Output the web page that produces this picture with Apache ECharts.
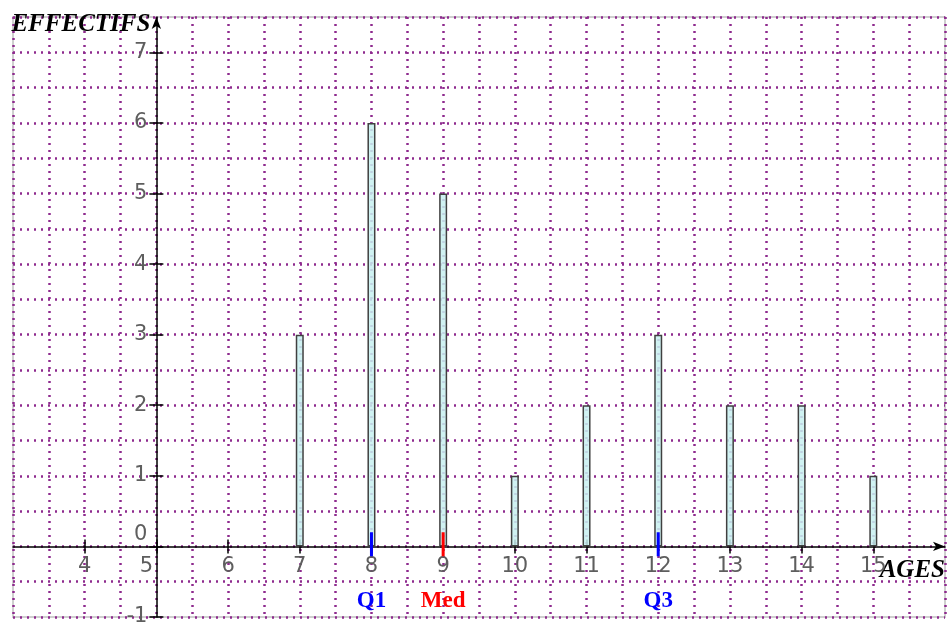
<!DOCTYPE html>
<html>
<head>
<meta charset="utf-8">
<script src="https://cdn.jsdelivr.net/npm/echarts@6/dist/echarts.min.js"></script>
<style>
    html, body { margin: 0; padding: 0; background: #fff; }
    #main { width: 950px; height: 627px; }
</style>
</head>
<body>
<div id="main"></div>
<script>
// données
const ages = [7, 8, 9, 10, 11, 12, 13, 14, 15];
const effectifs = [3, 6, 5, 1, 2, 3, 2, 2, 1];
const quartNames = ['Q1', 'Med', 'Q3'];
const quartAges = [8, 9, 12];
const quartColors = ['#0000ff', '#ff0000', '#0000ff'];
const xTicks = [4, 5, 6, 7, 8, 9, 10, 11, 12, 13, 14, 15];
const yTicks = [-1, 0, 1, 2, 3, 4, 5, 6, 7];

const xMin = 3, xMax = 16, yMin = -1, yMax = 7.5;
const gridLeft = 13, gridRight = 5, gridTop = 17, gridBottom = 10;
const plotW = 950 - gridLeft - gridRight;
const plotH = 627 - gridTop - gridBottom;
// l'axe des effectifs passe par x = 5, celui des ages par y = 0
const yAxisAt = 5;
const xAxisAt = 0;
const offLeft = -(yAxisAt - xMin) / (xMax - xMin) * plotW;
const offRight = -(xMax - yAxisAt) / (xMax - xMin) * plotW;
const offBottom = -(xAxisAt - yMin) / (yMax - yMin) * plotH;
const offTop = -(yMax - xAxisAt) / (yMax - yMin) * plotH;

const dotted = { color: '#8e2b8e', width: 2.5, type: [2, 5], cap: 'butt' };
const tickStyle = { color: '#000', width: 1.5 };
const labelFont = { fontFamily: 'DejaVu Sans', fontSize: 21, color: '#5e5e5e' };
const titleFont = { fontFamily: 'Liberation Serif', fontSize: 25, fontWeight: 'bold', fontStyle: 'italic', color: '#000' };

const myChart = echarts.init(document.getElementById('main'));

const barData = ages.map((a, i) => [a, effectifs[i]]);

const series = [{
    type: 'bar',
    xAxisIndex: 0,
    yAxisIndex: 0,
    barWidth: 8,
    data: barData,
    itemStyle: {
        color: 'rgba(200, 240, 240, 0.85)',
        borderColor: '#404040',
        borderWidth: 1.5
    },
    z: 3
}];

// petits traits des quartiles et leurs noms
quartAges.forEach((a, i) => {
    series.push({
        type: 'line',
        xAxisIndex: 0,
        yAxisIndex: 0,
        symbol: 'none',
        silent: true,
        data: [[a, -0.14], [a, 0.2]],
        lineStyle: { color: quartColors[i], width: 3 },
        z: 6
    });
    series.push({
        type: 'scatter',
        xAxisIndex: 0,
        yAxisIndex: 0,
        symbolSize: 0,
        silent: true,
        itemStyle: { opacity: 1 },
        data: [[a, -0.77]],
        label: {
            show: true,
            position: 'inside',
            formatter: quartNames[i],
            fontFamily: 'Liberation Serif',
            fontSize: 23,
            fontWeight: 'bold',
            color: quartColors[i]
        }
    });
});

// axe vide qui ne sert qu'au quadrillage
function gridAxis(pos) {
    return {
        type: 'value',
        position: pos,
        min: pos === 'bottom' ? xMin : yMin,
        max: pos === 'bottom' ? xMax : yMax,
        interval: 0.5,
        axisLine: { show: false, onZero: false },
        axisTick: { show: false },
        axisLabel: { show: false },
        splitLine: { show: true, lineStyle: dotted }
    };
}

// axe sans trait : seulement les graduations de l'autre côté
function tickAxis(pos, off, ticks, min, max) {
    return {
        type: 'value',
        position: pos,
        offset: off,
        min: min, max: max, interval: 1,
        axisLine: { show: false, onZero: false },
        axisTick: { show: true, customValues: ticks, length: 7, lineStyle: tickStyle },
        axisLabel: { show: false },
        splitLine: { show: false }
    };
}

const option = {
    animation: false,
    backgroundColor: '#fff',
    grid: {
        left: gridLeft, right: gridRight, top: gridTop, bottom: gridBottom,
        outerBoundsMode: 'none',
        containLabel: false,
        show: true,
        borderColor: '#cfcfcf',
        borderWidth: 2,
        backgroundColor: '#fff'
    },
    xAxis: [{
        type: 'value',
        position: 'bottom',
        offset: offBottom,
        min: xMin, max: xMax, interval: 1,
        axisLine: {
            onZero: false,
            lineStyle: tickStyle,
            symbol: ['none', 'arrow'],
            symbolSize: [7, 12]
        },
        axisTick: { show: true, customValues: xTicks, length: 7, lineStyle: tickStyle },
        axisLabel: {
            customValues: xTicks,
            margin: 10,
            ...labelFont,
            formatter: v => v === yAxisAt ? '{f|' + v + '}' : String(v),
            rich: { f: { ...labelFont, padding: [0, 20, 0, 0] } }
        },
        splitLine: { show: false },
        name: 'AGES',
        nameLocation: 'end',
        nameGap: 0,
        nameMoveOverlap: false,
        nameTextStyle: { ...titleFont, align: 'right', verticalAlign: 'top', padding: [12, 0, 0, 0] }
    },
    tickAxis('top', offTop, xTicks, xMin, xMax),
    gridAxis('bottom')],
    yAxis: [{
        type: 'value',
        position: 'left',
        offset: offLeft,
        min: yMin, max: yMax, interval: 1,
        axisLine: {
            show: true,
            onZero: false,
            lineStyle: tickStyle,
            symbol: ['none', 'arrow'],
            symbolSize: [7, 12]
        },
        axisTick: { show: true, customValues: yTicks, length: 7, lineStyle: tickStyle },
        axisLabel: {
            customValues: yTicks,
            margin: 9,
            ...labelFont,
            formatter: v => v === xAxisAt ? '{z|0}' : String(v),
            rich: { z: { ...labelFont, padding: [0, 0, 24, 0] } }
        },
        splitLine: { show: false },
        name: 'EFFECTIFS',
        nameLocation: 'end',
        nameGap: -8,
        nameMoveOverlap: false,
        nameTextStyle: { ...titleFont, align: 'right', verticalAlign: 'middle', padding: [0, 6, 0, 0] }
    },
    tickAxis('right', offRight, yTicks, yMin, yMax),
    gridAxis('left')],
    series: series
};

myChart.setOption(option);
</script>
</body>
</html>
